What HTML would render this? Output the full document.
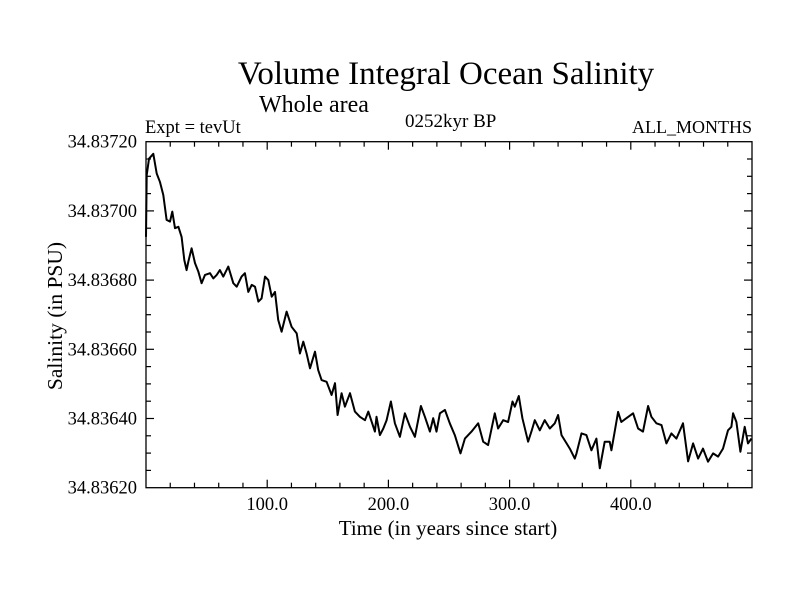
<!DOCTYPE html>
<html><head><meta charset="utf-8"><style>
body{margin:0;background:#fff;}
svg{display:block;font-family:"Liberation Serif",serif;}
</style></head><body>
<svg id="chart" width="800" height="600">
<text x="446" y="84" font-size="33" text-anchor="middle">Volume Integral Ocean Salinity</text>
<text x="259" y="112" font-size="24">Whole area</text>
<text x="145" y="133" font-size="18.5">Expt = tevUt</text>
<text x="405" y="127" font-size="19">0252kyr BP</text>
<text x="752" y="133" font-size="18" text-anchor="end">ALL_MONTHS</text>
<text x="448" y="535" font-size="21" text-anchor="middle">Time (in years since start)</text>
<text transform="translate(62,316) rotate(-90)" font-size="21.5" text-anchor="middle">Salinity (in PSU)</text>
<g id="axes"></g>
<path id="line" fill="none" stroke="#000" stroke-width="2" stroke-linejoin="round"></path>
</svg>
<script>
const years=[0,0.55,2.5,6,8.8,11.5,14.3,17,19.8,21.7,23.9,26.7,29.4,31.6,33.5,34.9,37.6,40.4,43.2,45.9,48.7,52.8,55.5,58.3,61,63.8,67.9,72,74.8,78.9,81.6,84.4,87.2,89.9,92.7,95.4,98.2,100.9,103.7,106.4,109.1,111.9,116,120.1,124.3,127,129.8,132.5,135.3,139.4,142.1,144.9,149,153.1,155.9,158.1,161.4,164.1,168.3,172.4,176.5,180.7,183.4,188.9,190.2,193,195.8,198.5,202.1,205.4,209.5,213.6,217.8,221.9,226.8,230.1,234.2,237,239.7,242.5,246.6,250.7,254.8,259.5,263.1,268.6,274.1,278.2,282.3,287.8,290.5,294.7,298.8,302.4,304.3,307.6,310.6,315.3,318,320.8,324.9,329,333.2,337.3,340,342.8,347,349.7,353.8,355.2,359.3,363.4,367.5,371.6,374.4,378.5,382.6,384,386.7,389.5,392.2,396.4,401.9,406,410.1,414.3,417,421.1,425.3,429.4,433.5,437.6,443.1,447.3,451.4,455.5,459.6,463.7,467.9,472,476.1,480.2,483,484.4,487.1,490.4,494,496.7,499.5];
const salinity=[34.836925,34.837103,34.837151,34.837165,34.837108,34.837084,34.837046,34.836974,34.836969,34.836998,34.836950,34.836954,34.836925,34.836858,34.836829,34.836853,34.836892,34.836849,34.836824,34.836791,34.836815,34.836820,34.836805,34.836815,34.836829,34.836810,34.836839,34.836791,34.836781,34.836810,34.836820,34.836766,34.836786,34.836781,34.836738,34.836747,34.836810,34.836800,34.836752,34.836766,34.836685,34.836651,34.836709,34.836665,34.836646,34.836588,34.836622,34.836588,34.836545,34.836593,34.836540,34.836511,34.836506,34.836468,34.836502,34.836410,34.836473,34.836434,34.836473,34.836420,34.836405,34.836395,34.836420,34.836362,34.836405,34.836352,34.836371,34.836395,34.836449,34.836386,34.836347,34.836415,34.836376,34.836347,34.836436,34.836405,34.836362,34.836401,34.836362,34.836415,34.836425,34.836386,34.836352,34.836299,34.836342,34.836362,34.836386,34.836333,34.836323,34.836415,34.836371,34.836395,34.836390,34.836449,34.836434,34.836465,34.836401,34.836333,34.836362,34.836395,34.836366,34.836395,34.836371,34.836386,34.836410,34.836352,34.836328,34.836313,34.836284,34.836299,34.836357,34.836352,34.836308,34.836342,34.836256,34.836333,34.836333,34.836308,34.836362,34.836419,34.836390,34.836401,34.836415,34.836371,34.836362,34.836436,34.836405,34.836386,34.836381,34.836328,34.836357,34.836342,34.836386,34.836276,34.836328,34.836284,34.836313,34.836275,34.836299,34.836290,34.836313,34.836366,34.836376,34.836415,34.836390,34.836304,34.836376,34.836328,34.836342];
const yTickLabels=["34.83620","34.83640","34.83660","34.83680","34.83700","34.83720"];
const xTickLabels=["100.0","200.0","300.0","400.0"];
const X0=146,X1=752,Y0=141.7,Y1=487.7,XMAX=500,YMIN=34.8362,YMAX=34.8372;
function sx(v){return X0+(v/XMAX)*(X1-X0);}
function sy(v){return Y1-(v-YMIN)/(YMAX-YMIN)*(Y1-Y0);}
const NS="http://www.w3.org/2000/svg";
const axes=document.getElementById('axes');
function ln(x1,y1,x2,y2,name){const l=document.createElementNS(NS,'line');l.setAttribute('x1',x1);l.setAttribute('y1',y1);l.setAttribute('x2',x2);l.setAttribute('y2',y2);l.setAttribute('stroke','#000');l.setAttribute('stroke-width','1.2');


axes.appendChild(l);}
const fr=document.createElementNS(NS,'rect');
fr.setAttribute('x',X0);fr.setAttribute('y',Y0);fr.setAttribute('width',X1-X0);fr.setAttribute('height',Y1-Y0);fr.setAttribute('fill','none');fr.setAttribute('stroke','#000');fr.setAttribute('stroke-width','1.3');


axes.appendChild(fr);
for(let t=20;t<XMAX;t+=20){const x=sx(t);const L=(t%100===0)?8:5;ln(x,Y1,x,Y1-L,'x-tick');ln(x,Y0,x,Y0+L,'x-tick-top');}
for(let i=1;i<20;i++){const v=YMIN+i*0.00005;const y=sy(v);const L=(i%4===0)?8:5;ln(X0,y,X0+L,y,'y-tick');ln(X1,y,X1-L,y,'y-tick-right');}
yTickLabels.forEach(s=>{const t=document.createElementNS(NS,'text');t.setAttribute('x',137);t.setAttribute('y',sy(parseFloat(s))+6);t.setAttribute('font-size','18.5');t.setAttribute('text-anchor','end');t.textContent=s;


axes.appendChild(t);});
xTickLabels.forEach(s=>{const t=document.createElementNS(NS,'text');t.setAttribute('x',sx(parseFloat(s)));t.setAttribute('y',510);t.setAttribute('font-size','18.5');t.setAttribute('text-anchor','middle');t.textContent=s;


axes.appendChild(t);});
document.getElementById('line').setAttribute('d',years.map((y,i)=>(i?'L':'M')+sx(y).toFixed(1)+','+sy(salinity[i]).toFixed(1)).join(''));
</script>
</body></html>
